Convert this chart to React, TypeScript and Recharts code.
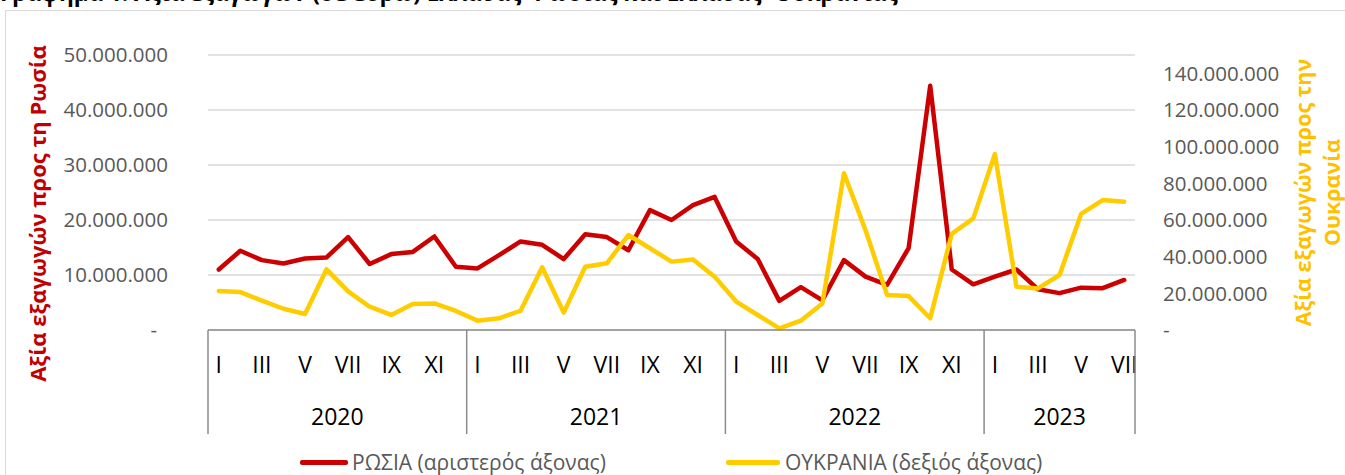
import { CartesianGrid, ComposedChart, Line, XAxis, YAxis } from "recharts";

const years = [2020, 2021, 2022, 2023];
const monthsInYear = [12, 12, 12, 7];
const romanMonths = ["I", "II", "III", "IV", "V", "VI", "VII", "VIII", "IX", "X", "XI", "XII"];

// Αξία εξαγωγών προς Ρωσία (αριστερός άξονας), ευρώ
const russia = [
  11000000, 14400000, 12700000, 12100000, 13000000, 13200000, 16900000, 12000000, 13800000, 14200000, 17000000, 11500000,
  11200000, 13600000, 16100000, 15500000, 12900000, 17400000, 16900000, 14500000, 21800000, 20000000, 22700000, 24200000,
  16100000, 12900000, 5300000, 7800000, 5400000, 12700000, 9700000, 8200000, 14900000, 44400000, 11000000, 8300000,
  9700000, 11000000, 7400000, 6700000, 7700000, 7600000, 9100000,
];

// Αξία εξαγωγών προς Ουκρανία (δεξιός άξονας), ευρώ
const ukraine = [
  21300000, 20700000, 16000000, 11600000, 8700000, 33100000, 21100000, 12700000, 8200000, 14200000, 14500000, 10400000,
  5100000, 6400000, 10500000, 34200000, 9500000, 34500000, 36400000, 51800000, 44600000, 37300000, 38500000, 29100000,
  15500000, 8200000, 900000, 5100000, 14500000, 85500000, 54500000, 19100000, 18500000, 6400000, 52400000, 60900000,
  96000000, 23600000, 22700000, 30000000, 63300000, 70900000, 70000000,
];

const leftTicks = [0, 10000000, 20000000, 30000000, 40000000, 50000000];
const rightTicks = [0, 20000000, 40000000, 60000000, 80000000, 100000000, 120000000, 140000000];

const RED = "#CC0000";
const YELLOW = "#FFCC00";
const AXIS_GRAY = "#8C8C8C";
const FONT = "'Open Sans', sans-serif";

const CHART_W = 1345;
const CHART_H = 475;
const LEFT_W = 208;
const RIGHT_W = 210;

const data = years.flatMap((year, yi) =>
  Array.from({ length: monthsInYear[yi] }, (_, m) => ({ key: `${year}-${m + 1}`, year, month: m + 1 }))
).map((d, i) => ({ ...d, russia: russia[i], ukraine: ukraine[i] }));

const BAND = (CHART_W - LEFT_W - RIGHT_W) / data.length;

// middle of each year's group of months, as a fractional index
const yearCenters = years.map((year) => {
  const first = data.findIndex((d) => d.year === year);
  const n = data.filter((d) => d.year === year).length;
  return { year, center: first + (n - 1) / 2 };
});

const fmt = (v: number) => (v === 0 ? "-" : String(Math.round(v)).replace(/\B(?=(\d{3})+(?!\d))/g, "."));

function MonthTick(props: any) {
  const { x, y, payload } = props;
  const i = data.findIndex((d) => d.key === payload.value);
  if (i < 0) return null;
  const d = data[i];
  const yc = yearCenters.find((c) => Math.floor(c.center) === i);
  return (
    <g>
      {d.month % 2 === 1 && (
        <text x={x} y={y + 43} textAnchor="middle" fontSize={23} fill="#000" fontFamily={FONT}>
          {romanMonths[d.month - 1]}
        </text>
      )}
      {d.month === 1 && (
        <line x1={x - BAND / 2} x2={x - BAND / 2} y1={y} y2={y + 104} stroke={AXIS_GRAY} strokeWidth={1.5} />
      )}
      {i === data.length - 1 && (
        <line x1={x + BAND / 2} x2={x + BAND / 2} y1={y} y2={y + 104} stroke={AXIS_GRAY} strokeWidth={1.5} />
      )}
      {yc && (
        <text x={x + (yc.center - i) * BAND} y={y + 95} textAnchor="middle" fontSize={23} fill="#000" fontFamily={FONT}>
          {yc.year}
        </text>
      )}
    </g>
  );
}

function LeftTick(props: any) {
  const { x, y, payload } = props;
  const zero = payload.value === 0;
  return (
    <text x={zero ? x - 11 : x} y={y} dy="0.35em" textAnchor="end" fontSize={20.5} fill="#595959" fontFamily={FONT}>
      {fmt(payload.value)}
    </text>
  );
}

function RightTick(props: any) {
  const { x, y, payload } = props;
  return (
    <text x={x} y={y} dy="0.35em" textAnchor="start" fontSize={20.5} fill="#595959" fontFamily={FONT}>
      {fmt(payload.value)}
    </text>
  );
}

function LeftTitle(props: any) {
  const vb = props.viewBox;
  const cx = vb.x + 38;
  const cy = vb.y + vb.height / 2 + 21;
  return (
    <text x={cx} y={cy} dy="0.35em" textAnchor="middle" transform={`rotate(-90, ${cx}, ${cy})`}
      fontSize={22} fontWeight="bold" fill="#C00000" fontFamily={FONT}>
      Αξία εξαγωγών προς τη Ρωσία
    </text>
  );
}

function RightTitle(props: any) {
  const vb = props.viewBox;
  const cy = vb.y + vb.height / 2;
  const x1 = vb.x + 168;
  const x2 = vb.x + 197;
  return (
    <g fontSize={21.5} fontWeight="bold" fill="#FFC000" fontFamily={FONT}>
      <text x={x1} y={cy} dy="0.35em" textAnchor="middle" transform={`rotate(-90, ${x1}, ${cy})`}>
        Αξία εξαγωγών προς την
      </text>
      <text x={x2} y={cy} dy="0.35em" textAnchor="middle" transform={`rotate(-90, ${x2}, ${cy})`}>
        Ουκρανία
      </text>
    </g>
  );
}

export default function App() {
  return (
    <div style={{ position: "fixed", left: 0, top: 0, width: CHART_W, height: CHART_H, background: "#fff", overflow: "hidden", fontFamily: FONT }}>
      <div style={{ position: "absolute", left: 5, top: 10, width: 1400, height: 500, border: "1.5px solid #D9D9D9" }} />
      <div style={{ position: "absolute", left: 0, top: -18, fontSize: 22.5, lineHeight: "22.5px", fontWeight: "bold", color: "#000", whiteSpace: "nowrap" }}>
        Γράφημα 1: Αξία εξαγωγών (σε ευρώ) Ελλάδας -Ρωσίας και Ελλάδας -Ουκρανίας
      </div>
      <div style={{ position: "absolute", left: 0, top: 0 }}>
        <ComposedChart width={CHART_W} height={CHART_H} data={data} margin={{ top: 55, right: 0, bottom: 40, left: 0 }}>
          <CartesianGrid yAxisId="left" vertical={false} stroke="#D9D9D9" strokeWidth={1.3} />
          <XAxis dataKey="key" scale="band" interval={0} height={105} tickSize={0} tickMargin={0} tickLine={false}
            axisLine={{ stroke: AXIS_GRAY, strokeWidth: 1.5 }} tick={<MonthTick />} />
          <YAxis yAxisId="left" orientation="left" width={LEFT_W} domain={[0, 50000000]} ticks={leftTicks}
            axisLine={false} tickLine={false} tickSize={0} tickMargin={40} tick={<LeftTick />}
            label={{ content: <LeftTitle /> }} />
          <YAxis yAxisId="right" orientation="right" width={RIGHT_W} domain={[0, 150000000]} ticks={rightTicks}
            axisLine={false} tickLine={false} tickSize={0} tickMargin={28} tick={<RightTick />}
            label={{ content: <RightTitle /> }} />
          <Line yAxisId="left" dataKey="russia" stroke={RED} strokeWidth={4.5} dot={false} activeDot={false}
            strokeLinejoin="round" strokeLinecap="round" isAnimationActive={false} />
          <Line yAxisId="right" dataKey="ukraine" stroke={YELLOW} strokeWidth={4.5} dot={false} activeDot={false}
            strokeLinejoin="round" strokeLinecap="round" isAnimationActive={false} />
        </ComposedChart>
      </div>
      <div style={{ position: "absolute", left: 300, top: 460, width: 48, height: 4.5, background: RED, borderRadius: 2 }} />
      <div style={{ position: "absolute", left: 352, top: 448, fontSize: 21, lineHeight: "28px", color: "#595959", whiteSpace: "nowrap" }}>
        ΡΩΣΙΑ (αριστερός άξονας)
      </div>
      <div style={{ position: "absolute", left: 726, top: 460, width: 54, height: 4.5, background: YELLOW, borderRadius: 2 }} />
      <div style={{ position: "absolute", left: 785, top: 448, fontSize: 21, lineHeight: "28px", color: "#595959", whiteSpace: "nowrap" }}>
        ΟΥΚΡΑΝΙΑ (δεξιός άξονας)
      </div>
    </div>
  );
}
